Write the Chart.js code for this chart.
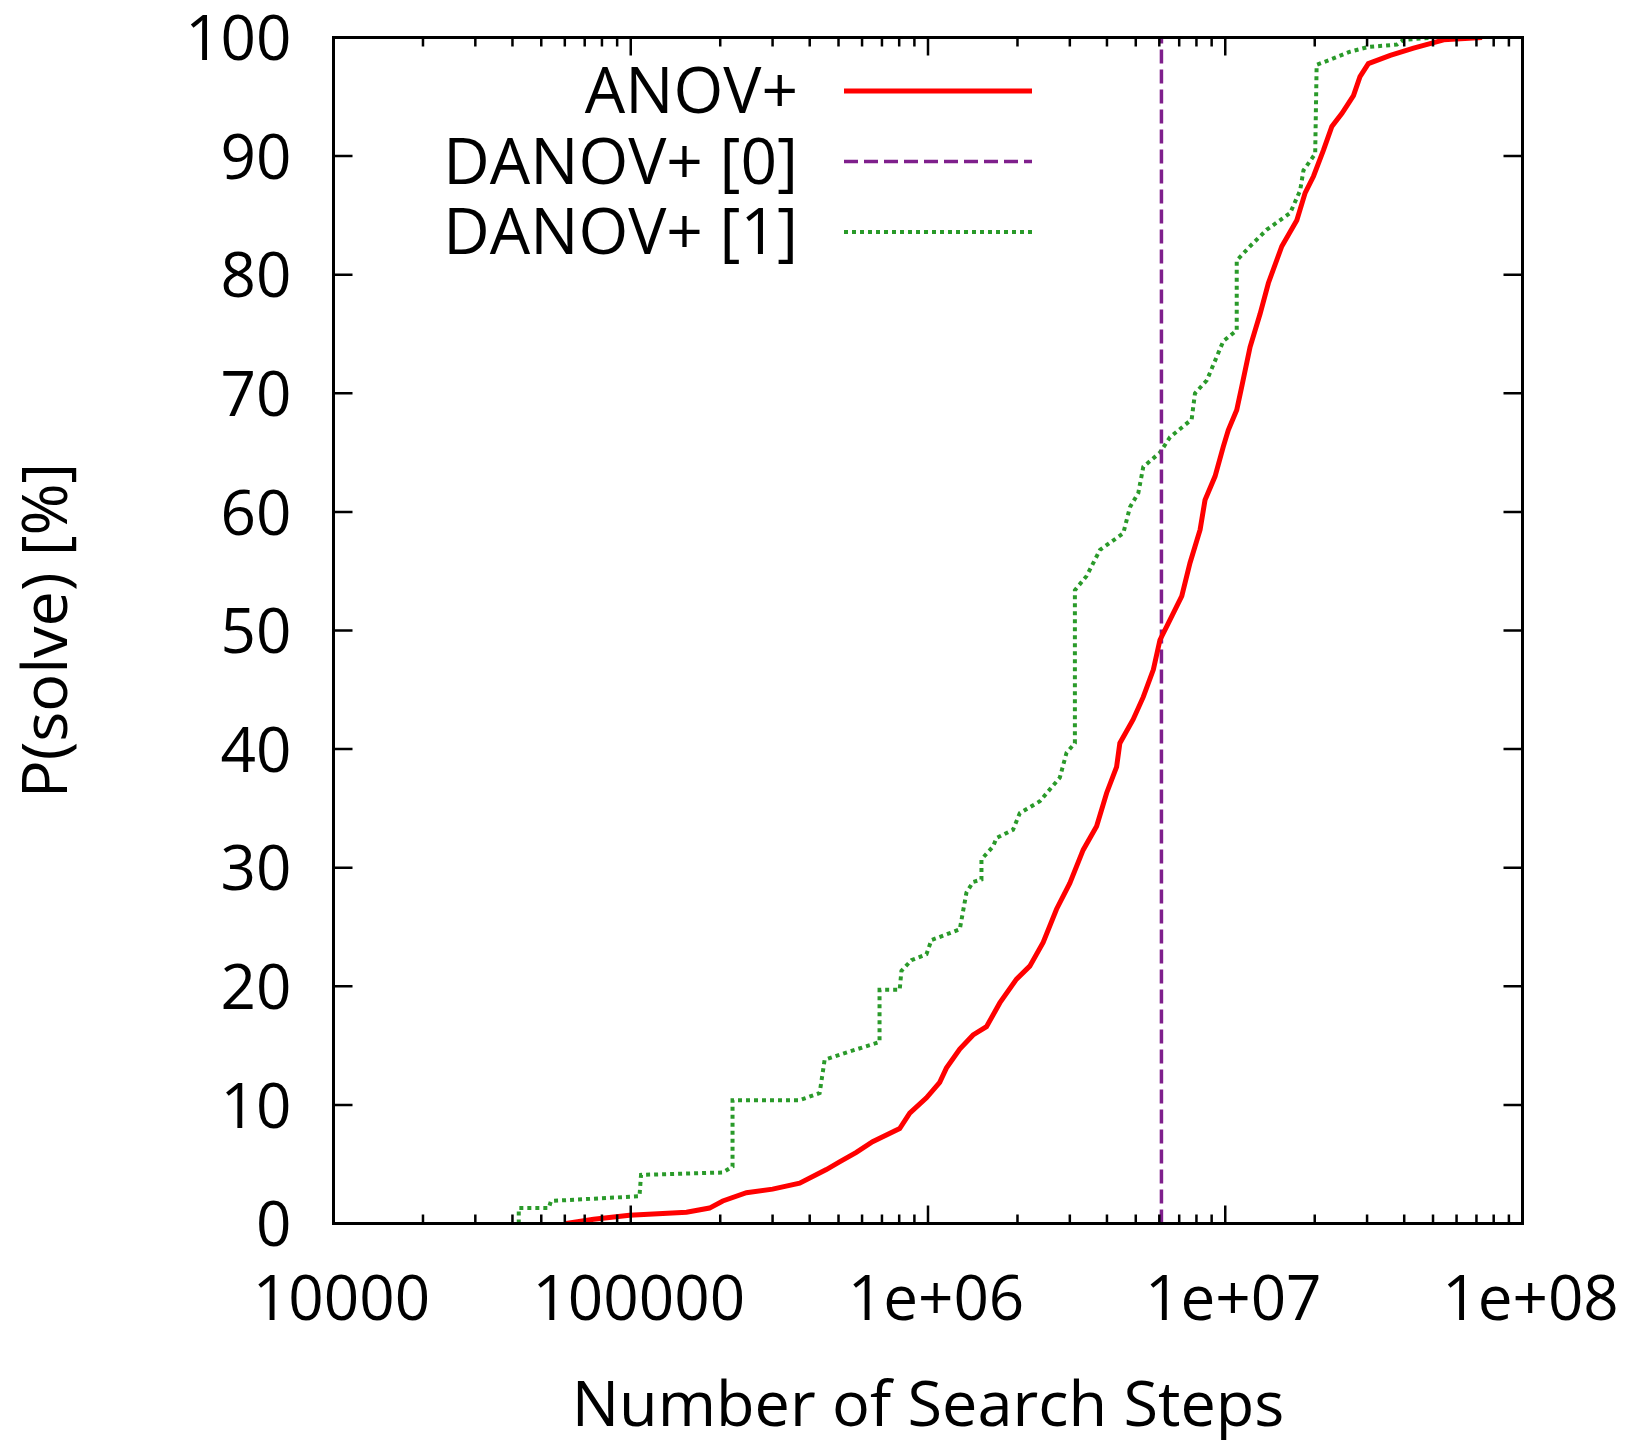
<!DOCTYPE html>
<html><head><meta charset="utf-8">
<script src="https://cdn.jsdelivr.net/npm/chart.js@4.4.1/dist/chart.umd.min.js"></script>
<style>html,body{margin:0;padding:0;background:#fff;} canvas{display:block;}</style>
</head><body>
<canvas id="c" width="1629" height="1440"></canvas>
<script>
// ---- data ----
const seriesLabels = ['ANOV+', 'DANOV+ [0]', 'DANOV+ [1]'];

const anovX = [6.06e4, 7.5e4, 9.9e4, 1.54e5, 1.84e5, 2.04e5, 2.45e5, 3.0e5, 3.7e5, 4.55e5,
  5.04e5, 5.74e5, 6.51e5, 8.03e5, 8.68e5, 9.88e5, 1.095e6, 1.153e6, 1.279e6, 1.418e6,
  1.573e6, 1.744e6, 1.985e6, 2.2e6, 2.44e6, 2.706e6, 3.0e6, 3.327e6, 3.692e6, 3.99e6,
  4.31e6, 4.42e6, 4.90e6, 5.30e6, 5.73e6, 6.03e6, 6.43e6, 7.14e6, 7.61e6, 8.23e6,
  8.55e6, 9.24e6, 9.85e6, 1.024e7, 1.093e7, 1.137e7, 1.212e7, 1.31e7, 1.397e7, 1.55e7,
  1.741e7, 1.857e7, 1.981e7, 2.14e7, 2.284e7, 2.47e7, 2.70e7, 2.84e7, 3.03e7, 3.59e7,
  4.30e7, 5.43e7, 7.31e7];
const anovY = [0, 0.35, 0.7, 0.95, 1.3, 1.9, 2.6, 2.9, 3.4, 4.55,
  5.2, 6.0, 6.9, 8.0, 9.3, 10.6, 11.9, 13.1, 14.7, 15.9,
  16.6, 18.6, 20.6, 21.7, 23.7, 26.5, 28.7, 31.5, 33.5, 36.3,
  38.5, 40.5, 42.5, 44.4, 46.7, 49.2, 50.6, 52.9, 55.7, 58.5,
  61.0, 63.0, 65.5, 66.9, 68.6, 70.6, 73.9, 76.7, 79.3, 82.4,
  84.6, 86.9, 88.3, 90.5, 92.5, 93.6, 95.1, 96.7, 97.8, 98.5,
  99.1, 99.8, 100];

const danov0X = [6.1e6, 6.1e6];
const danov0Y = [0, 100];

const danov1X = [4.2e4, 4.2e4, 5.3e4, 5.39e4, 1.07e5, 1.083e5, 2.04e5, 2.2e5, 2.2e5, 3.7e5,
  4.32e5, 4.49e5, 5.45e5, 6.87e5, 6.87e5, 8.03e5, 8.14e5, 8.79e5, 9.88e5, 1.027e6,
  1.279e6, 1.347e6, 1.418e6, 1.513e6, 1.513e6, 1.656e6, 1.70e6, 1.932e6, 2.036e6, 2.378e6,
  2.777e6, 2.925e6, 3.12e6, 3.12e6, 3.417e6, 3.79e6, 4.54e6, 4.78e6, 5.10e6, 5.30e6,
  6.03e6, 6.52e6, 7.71e6, 7.91e6, 8.67e6, 9.85e6, 1.093e7, 1.093e7, 1.212e7, 1.38e7,
  1.653e7, 1.786e7, 1.833e7, 2.007e7, 2.03e7, 2.24e7, 2.63e7, 3.03e7, 3.78e7, 3.97e7,
  5.02e7];
const danov1Y = [0, 1.3, 1.3, 1.9, 2.3, 4.1, 4.3, 4.8, 10.4, 10.4,
  11.0, 13.8, 14.5, 15.3, 19.7, 19.7, 21.3, 22.2, 22.7, 23.9,
  24.8, 27.9, 28.8, 29.0, 30.7, 31.8, 32.5, 33.2, 34.6, 35.6,
  37.6, 39.7, 40.5, 53.4, 54.6, 56.8, 58.2, 60.4, 61.6, 63.8,
  65.0, 66.3, 67.8, 70.0, 71.1, 74.4, 75.3, 81.2, 82.4, 83.8,
  85.2, 87.1, 88.8, 90.2, 97.7, 98.1, 98.8, 99.2, 99.4, 99.8,
  100];

const xTickValues = [1e4, 1e5, 1e6, 1e7, 1e8];
const xTickLabels = ['10000', '100000', '1e+06', '1e+07', '1e+08'];
const yTickValues = [0, 10, 20, 30, 40, 50, 60, 70, 80, 90, 100];
const yTickLabels = ['0', '10', '20', '30', '40', '50', '60', '70', '80', '90', '100'];

const xTitle = 'Number of Search Steps';
const yTitle = 'P(solve) [%]';

// ---- helpers ----
const pts = (xs, ys) => xs.map((v, i) => ({ x: v, y: ys[i] }));
const FONT = 'Open Sans';

// frame + inward mirrored ticks (gnuplot style)
const framePlugin = {
  id: 'frame',
  afterDatasetsDraw(chart) {
    const { ctx, chartArea: a, scales: { x, y } } = chart;
    ctx.save();
    ctx.strokeStyle = '#000';
    ctx.lineCap = 'butt';
    ctx.lineWidth = 2.5;
    ctx.beginPath();
    const lo = Math.log10(x.min), hi = Math.log10(x.max);
    for (let e = lo; e <= hi; e++) {
      for (let m = 1; m <= 9; m++) {
        const v = m * Math.pow(10, e);
        if (v > x.max * 1.0001) break;
        const px = x.getPixelForValue(v);
        const len = m === 1 ? 18 : 9;
        ctx.moveTo(px, a.bottom); ctx.lineTo(px, a.bottom - len);
        ctx.moveTo(px, a.top); ctx.lineTo(px, a.top + len);
      }
    }
    yTickValues.forEach(v => {
      const py = y.getPixelForValue(v);
      ctx.moveTo(a.left, py); ctx.lineTo(a.left + 19, py);
      ctx.moveTo(a.right, py); ctx.lineTo(a.right - 19, py);
    });
    ctx.stroke();
    ctx.lineWidth = 3;
    ctx.strokeRect(a.left, a.top, a.right - a.left, a.bottom - a.top);
    ctx.restore();
  }
};

// gnuplot-like key: text right-aligned, sample line to its right
const keyPlugin = {
  id: 'key',
  afterDraw(chart) {
    const { ctx } = chart;
    const textRight = 798, lineL = 844, lineR = 1032, row0 = 91, rowH = 70.5;
    ctx.save();
    chart.data.datasets.forEach((ds, i) => {
      const yy = row0 + i * rowH;
      ctx.font = `64px "${FONT}"`;
      ctx.fillStyle = '#000';
      ctx.textAlign = 'right';
      ctx.textBaseline = 'middle';
      ctx.fillText(ds.label, textRight, yy + 4);
      ctx.strokeStyle = ds.borderColor;
      ctx.lineWidth = ds.borderWidth;
      ctx.setLineDash(ds.borderDash || []);
      ctx.beginPath();
      ctx.moveTo(lineL, yy); ctx.lineTo(lineR, yy);
      ctx.stroke();
    });
    ctx.restore();
  }
};

new Chart(document.getElementById('c'), {
  type: 'line',
  data: {
    datasets: [
      { label: seriesLabels[0], data: pts(anovX, anovY), borderColor: '#ff0000', borderWidth: 5,
        pointRadius: 0, tension: 0, fill: false },
      { label: seriesLabels[1], data: pts(danov0X, danov0Y), borderColor: '#7f1f8c', borderWidth: 3.5,
        borderDash: [14, 6], pointRadius: 0, tension: 0, fill: false },
      { label: seriesLabels[2], data: pts(danov1X, danov1Y), borderColor: '#2a9a2a', borderWidth: 4,
        borderDash: [4, 4], pointRadius: 0, tension: 0, fill: false }
    ]
  },
  options: {
    responsive: false,
    animation: false,
    devicePixelRatio: 1,
    layout: { padding: { top: 37.5, right: 106.5, bottom: 0, left: 0 } },
    plugins: { legend: { display: false }, tooltip: { enabled: false } },
    scales: {
      x: {
        type: 'logarithmic', min: 1e4, max: 1e8, position: 'bottom',
        afterBuildTicks: s => { s.ticks = xTickValues.map(v => ({ value: v })); },
        afterFit: s => { s.height = 216.5; s.paddingLeft = 0; s.paddingRight = 0; s.paddingTop = 0; s.paddingBottom = 0; },
        grid: { display: false, drawTicks: false },
        border: { display: false },
        ticks: {
          autoSkip: false, maxRotation: 0, minRotation: 0,
          callback: v => { const i = xTickValues.indexOf(v); return i >= 0 ? xTickLabels[i] : ''; },
          font: { family: FONT, size: 62 }, color: '#000', padding: 42, labelOffset: 8
        },
        title: { display: true, text: xTitle, color: '#000',
          font: { family: FONT, size: 63, lineHeight: 1 }, padding: { top: 0, bottom: 0 } }
      },
      y: {
        type: 'linear', min: 0, max: 100,
        afterBuildTicks: s => { s.ticks = yTickValues.map(v => ({ value: v })); },
        afterFit: s => { s.width = 333.5; s.paddingLeft = 0; s.paddingRight = 0; s.paddingTop = 0; s.paddingBottom = 0; },
        grid: { display: false, drawTicks: false },
        border: { display: false },
        ticks: {
          callback: (v) => { const i = yTickValues.indexOf(v); return i >= 0 ? yTickLabels[i] : ''; },
          font: { family: FONT, size: 62 }, color: '#000', padding: 42, labelOffset: 5
        },
        title: { display: true, text: yTitle, color: '#000',
          font: { family: FONT, size: 63, lineHeight: 1 }, padding: { top: 18, bottom: 0 } }
      }
    }
  },
  plugins: [framePlugin, keyPlugin]
});
</script>
</body></html>
